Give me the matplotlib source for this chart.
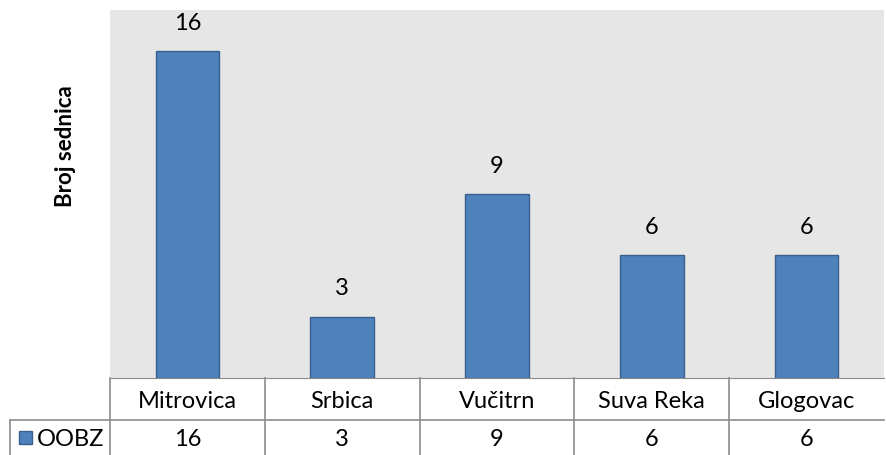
import matplotlib.pyplot as plt
from matplotlib.patches import Rectangle

categories = ["Mitrovica", "Srbica", "Vučitrn", "Suva Reka", "Glogovac"]
values = [16, 3, 9, 6, 6]
series_name = "OOBZ"

plt.rcParams['font.family'] = ['Lato', 'DejaVu Sans']

W, H = 886, 455
fig = plt.figure(figsize=(W / 100, H / 100), dpi=100)

x0, x1 = 110, 884
top, bot = 10, 378
ax = fig.add_axes([x0 / W, 1 - bot / H, (x1 - x0) / W, (bot - top) / H])
ax.set_facecolor('#E6E6E6')
xs = list(range(len(categories)))
ax.bar(xs, values, width=0.41, color='#4F81BD', edgecolor='#3A5F8C', linewidth=1)
for x, v in zip(xs, values):
    ax.text(x, v + 0.85, str(v), ha='center', va='bottom', fontsize=17)
ax.set_xlim(-0.5, len(categories) - 0.5)
ax.set_ylim(0, 18)
ax.set_xticks([])
ax.set_yticks([])
for s in ax.spines.values():
    s.set_visible(False)
ax.spines['bottom'].set_visible(True)
ax.spines['bottom'].set_color('#8C8C8C')
fig.text(65 / W, 1 - 146 / H, "Broj sednica", rotation=90, ha='center', va='center',
         fontsize=16, fontweight='bold')

# data table below the plot
tab = fig.add_axes([0, 0, 1, 1])
tab.set_xlim(0, W)
tab.set_ylim(H, 0)
tab.axis('off')
lc = '#8C8C8C'
r1, r2 = 420, 455
colw = (x1 - x0) / len(categories)
tab.plot([x0, x0], [bot, H], color=lc, lw=1.2)
tab.plot([10, x1], [r1, r1], color=lc, lw=1.2)
tab.plot([10, 10], [r1, H], color=lc, lw=1.2)
for i, (c, v) in enumerate(zip(categories, values)):
    cx = x0 + colw * (i + 0.5)
    if i > 0:
        xl = x0 + colw * i
        tab.plot([xl, xl], [bot, H], color=lc, lw=1.2)
    tab.text(cx, (bot + r1) / 2 + 2, c, ha='center', va='center', fontsize=17)
    tab.text(cx, (r1 + H) / 2 + 2, str(v), ha='center', va='center', fontsize=17)
tab.add_patch(Rectangle((19, 431), 13, 13, facecolor='#4F81BD', edgecolor='#3A5F8C', lw=1))
tab.text(37, (r1 + H) / 2 + 2, series_name, ha='left', va='center', fontsize=17)

fig.savefig("out.png", dpi=100)
